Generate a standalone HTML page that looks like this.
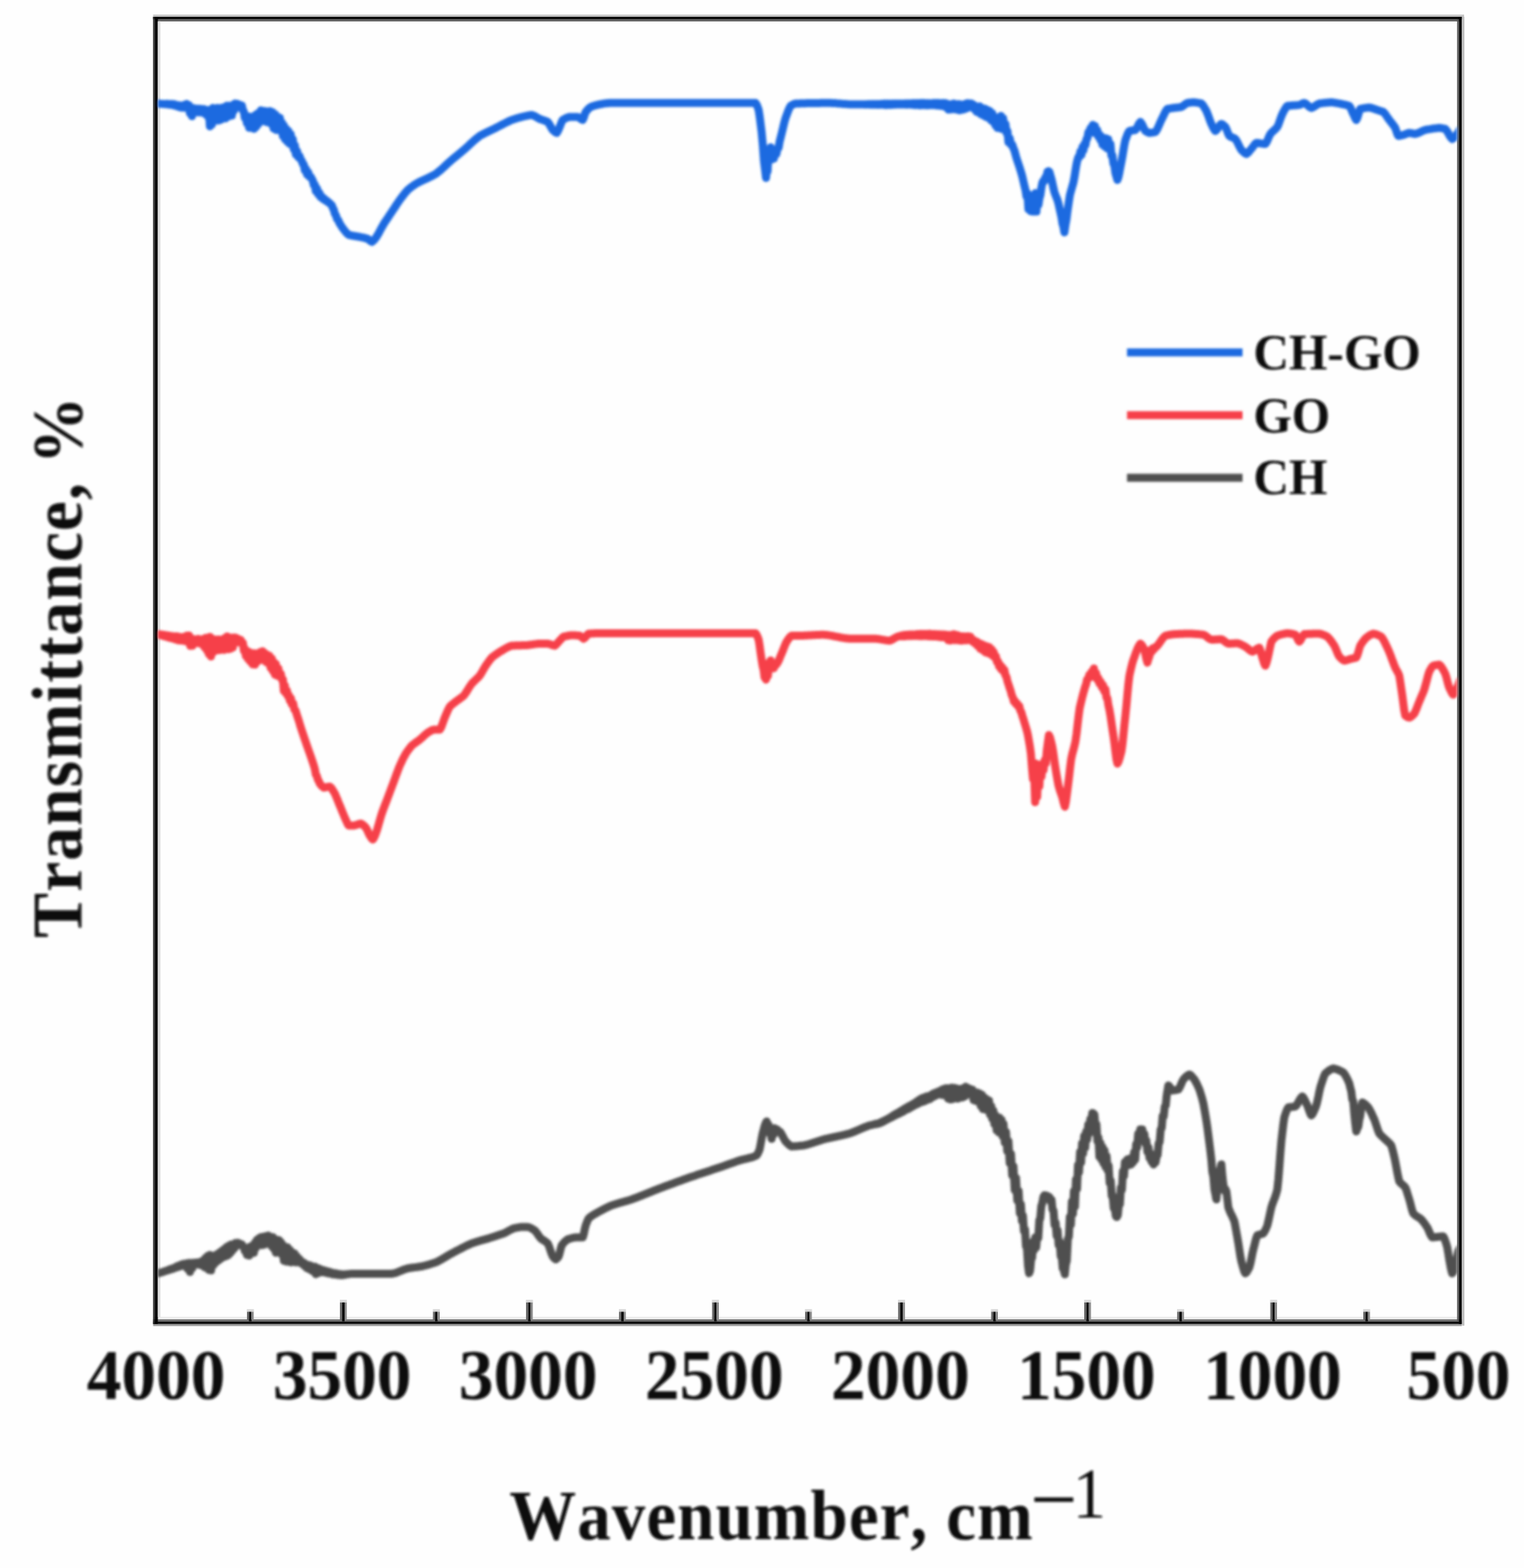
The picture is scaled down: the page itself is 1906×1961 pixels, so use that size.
<!DOCTYPE html>
<html lang="en"><head><meta charset="utf-8"><title>FTIR spectra</title>
<style>html,body{margin:0;padding:0;background:#fefefe}body{width:1906px;height:1961px;overflow:hidden}svg{display:block}</style></head>
<body>
<svg width="1906" height="1961" viewBox="0 0 1906 1961">
<defs><clipPath id="c"><rect x="197.2" y="26.7" width="1625.4" height="1623.3"/></clipPath>
<filter id="soft" x="-5%" y="-5%" width="110%" height="110%"><feGaussianBlur stdDeviation="1.4"/></filter><filter id="crisp" x="-2%" y="-2%" width="104%" height="104%"><feGaussianBlur stdDeviation="0.6"/></filter></defs>
<rect x="0" y="0" width="1906" height="1961" fill="#fefefe"/>
<g filter="url(#crisp)">
<rect x="191.5" y="18.3" width="1639.6" height="2.7" fill="#c2c2c2"/>
<rect x="191.5" y="21.0" width="1636.8" height="3.2" fill="#080808"/>
<rect x="194.5" y="24.2" width="1630.8" height="2.5" fill="#555555"/>
<rect x="191.5" y="1646.8" width="1636.8" height="3.2" fill="#ececec"/>
<rect x="191.5" y="1650.0" width="1636.8" height="2.5" fill="#757575"/>
<rect x="191.5" y="1652.5" width="1636.8" height="3.4" fill="#101010"/>
<rect x="191.5" y="1655.9" width="1636.8" height="2.5" fill="#9a9a9a"/>
<rect x="191.5" y="21.0" width="1.8" height="1634.9" fill="#2a2a2a"/>
<rect x="193.3" y="21.0" width="4.1" height="1634.9" fill="#060606"/>
<rect x="197.6" y="26.7" width="3.0" height="1620.3" fill="#dedede"/>
<rect x="1822.4" y="24.2" width="2.2" height="1627.8" fill="#555555"/>
<rect x="1824.6" y="21.0" width="3.7" height="1634.9" fill="#060606"/>
<rect x="1828.6" y="21.0" width="2.8" height="1636.9" fill="#bcbcbc"/>
<rect x="308.9" y="1640.3" width="2.6" height="10.7" fill="#666666"/>
<rect x="311.4" y="1640.3" width="3.2" height="12.2" fill="#080808"/>
<rect x="314.7" y="1640.3" width="2.6" height="10.7" fill="#888888"/>
<rect x="308.7" y="1637.3" width="8.8" height="3.0" fill="#d8d8d8"/>
<rect x="425.2" y="1628.6" width="2.6" height="22.4" fill="#666666"/>
<rect x="427.8" y="1628.6" width="3.2" height="23.9" fill="#080808"/>
<rect x="431.0" y="1628.6" width="2.6" height="22.4" fill="#888888"/>
<rect x="425.0" y="1625.6" width="8.8" height="3.0" fill="#d8d8d8"/>
<rect x="541.5" y="1640.3" width="2.6" height="10.7" fill="#666666"/>
<rect x="544.1" y="1640.3" width="3.2" height="12.2" fill="#080808"/>
<rect x="547.4" y="1640.3" width="2.6" height="10.7" fill="#888888"/>
<rect x="541.4" y="1637.3" width="8.8" height="3.0" fill="#d8d8d8"/>
<rect x="657.9" y="1628.6" width="2.6" height="22.4" fill="#666666"/>
<rect x="660.5" y="1628.6" width="3.2" height="23.9" fill="#080808"/>
<rect x="663.7" y="1628.6" width="2.6" height="22.4" fill="#888888"/>
<rect x="657.7" y="1625.6" width="8.8" height="3.0" fill="#d8d8d8"/>
<rect x="774.2" y="1640.3" width="2.6" height="10.7" fill="#666666"/>
<rect x="776.8" y="1640.3" width="3.2" height="12.2" fill="#080808"/>
<rect x="780.0" y="1640.3" width="2.6" height="10.7" fill="#888888"/>
<rect x="774.0" y="1637.3" width="8.8" height="3.0" fill="#d8d8d8"/>
<rect x="890.6" y="1628.6" width="2.6" height="22.4" fill="#666666"/>
<rect x="893.2" y="1628.6" width="3.2" height="23.9" fill="#080808"/>
<rect x="896.4" y="1628.6" width="2.6" height="22.4" fill="#888888"/>
<rect x="890.4" y="1625.6" width="8.8" height="3.0" fill="#d8d8d8"/>
<rect x="1006.9" y="1640.3" width="2.6" height="10.7" fill="#666666"/>
<rect x="1009.5" y="1640.3" width="3.2" height="12.2" fill="#080808"/>
<rect x="1012.7" y="1640.3" width="2.6" height="10.7" fill="#888888"/>
<rect x="1006.7" y="1637.3" width="8.8" height="3.0" fill="#d8d8d8"/>
<rect x="1123.3" y="1628.6" width="2.6" height="22.4" fill="#666666"/>
<rect x="1125.9" y="1628.6" width="3.2" height="23.9" fill="#080808"/>
<rect x="1129.1" y="1628.6" width="2.6" height="22.4" fill="#888888"/>
<rect x="1123.1" y="1625.6" width="8.8" height="3.0" fill="#d8d8d8"/>
<rect x="1239.6" y="1640.3" width="2.6" height="10.7" fill="#666666"/>
<rect x="1242.2" y="1640.3" width="3.2" height="12.2" fill="#080808"/>
<rect x="1245.4" y="1640.3" width="2.6" height="10.7" fill="#888888"/>
<rect x="1239.4" y="1637.3" width="8.8" height="3.0" fill="#d8d8d8"/>
<rect x="1356.0" y="1628.6" width="2.6" height="22.4" fill="#666666"/>
<rect x="1358.6" y="1628.6" width="3.2" height="23.9" fill="#080808"/>
<rect x="1361.8" y="1628.6" width="2.6" height="22.4" fill="#888888"/>
<rect x="1355.8" y="1625.6" width="8.8" height="3.0" fill="#d8d8d8"/>
<rect x="1472.3" y="1640.3" width="2.6" height="10.7" fill="#666666"/>
<rect x="1475.0" y="1640.3" width="3.2" height="12.2" fill="#080808"/>
<rect x="1478.1" y="1640.3" width="2.6" height="10.7" fill="#888888"/>
<rect x="1472.1" y="1637.3" width="8.8" height="3.0" fill="#d8d8d8"/>
<rect x="1588.7" y="1628.6" width="2.6" height="22.4" fill="#666666"/>
<rect x="1591.3" y="1628.6" width="3.2" height="23.9" fill="#080808"/>
<rect x="1594.5" y="1628.6" width="2.6" height="22.4" fill="#888888"/>
<rect x="1588.5" y="1625.6" width="8.8" height="3.0" fill="#d8d8d8"/>
<rect x="1705.0" y="1640.3" width="2.6" height="10.7" fill="#666666"/>
<rect x="1707.6" y="1640.3" width="3.2" height="12.2" fill="#080808"/>
<rect x="1710.8" y="1640.3" width="2.6" height="10.7" fill="#888888"/>
<rect x="1704.8" y="1637.3" width="8.8" height="3.0" fill="#d8d8d8"/>
</g>
<g filter="url(#soft)">
<g clip-path="url(#c)" fill="none" stroke-linejoin="round" stroke-linecap="round" stroke-width="10">
<path stroke="#1f6ae0" d="M195.0 128.8 L196.2 129.4 L197.8 129.5 L199.4 129.7 L200.9 129.8 L202.5 129.9 L204.1 130.0 L205.6 130.1 L207.2 130.4 L208.8 129.8 L210.3 130.7 L211.9 130.0 L213.4 131.0 L215.0 130.1 L216.6 131.5 L218.1 130.5 L219.7 132.3 L221.2 131.4 L222.8 133.6 L224.4 131.8 L225.9 134.4 L227.5 132.3 L229.0 134.7 L230.5 131.1 L232.0 134.7 L233.5 129.9 L235.0 135.5 L236.2 131.6 L237.5 141.7 L238.8 134.2 L240.0 145.3 L241.2 135.1 L242.5 141.5 L243.8 135.6 L245.2 140.3 L246.7 135.9 L248.1 140.6 L249.6 135.9 L251.0 140.4 L252.5 136.3 L254.0 141.0 L255.5 136.6 L257.0 142.9 L258.5 138.1 L260.0 145.9 L261.2 137.6 L262.5 157.9 L263.8 138.0 L265.0 155.7 L266.2 135.0 L267.5 149.8 L268.9 136.2 L270.4 150.7 L271.8 135.0 L273.2 150.7 L274.6 135.5 L276.1 149.8 L277.5 134.7 L279.0 147.8 L280.5 134.0 L282.0 148.1 L283.5 132.3 L285.0 146.1 L286.2 132.2 L287.5 144.0 L288.8 132.5 L290.0 144.6 L291.2 131.3 L292.5 138.5 L293.8 129.5 L295.0 134.5 L296.5 129.7 L298.0 134.2 L299.5 130.8 L301.0 134.5 L302.5 131.9 L303.8 138.2 L305.0 139.7 L306.2 147.6 L307.5 145.3 L308.8 154.2 L310.0 145.4 L311.5 159.8 L313.0 146.1 L314.5 159.8 L316.0 147.3 L317.5 161.0 L318.8 144.4 L320.0 158.9 L321.2 142.6 L322.5 155.8 L323.8 141.1 L325.0 152.9 L326.2 138.0 L327.5 151.5 L328.9 138.8 L330.4 150.9 L331.8 138.9 L333.2 152.7 L334.6 140.4 L336.1 152.5 L337.5 138.9 L339.1 155.2 L340.6 140.3 L342.2 160.8 L343.8 142.7 L345.3 162.4 L346.9 145.7 L348.4 160.6 L350.0 147.4 L351.2 164.2 L352.5 153.1 L353.8 170.2 L355.0 157.1 L356.4 174.1 L357.9 161.3 L359.3 177.1 L360.7 163.9 L362.1 179.7 L363.6 167.9 L365.0 181.5 L366.2 174.2 L367.5 187.0 L368.8 181.9 L370.0 193.3 L371.5 188.8 L373.0 196.6 L374.5 194.9 L376.0 199.4 L377.5 201.2 L378.8 205.3 L380.0 205.7 L381.2 213.2 L382.5 210.8 L384.0 218.3 L385.5 215.5 L387.0 221.0 L388.5 220.9 L390.0 223.8 L391.2 225.8 L392.5 231.6 L393.8 231.1 L395.0 239.3 L396.5 235.7 L398.0 243.1 L399.5 241.2 L401.0 246.7 L402.5 245.8 L404.1 249.1 L405.6 248.6 L407.2 251.1 L408.8 251.1 L410.3 253.1 L411.9 253.7 L413.4 255.3 L415.0 256.9 L416.2 259.9 L417.5 262.5 L418.8 267.5 L420.0 269.0 L421.5 273.9 L423.0 275.2 L424.5 279.0 L426.0 281.3 L427.5 283.8 L429.0 285.7 L430.4 287.6 L431.9 289.5 L433.3 291.2 L434.8 292.6 L436.2 293.8 L437.8 294.1 L439.3 294.5 L440.8 294.7 L442.4 295.0 L443.9 295.2 L445.4 295.5 L446.9 295.7 L448.5 296.0 L450.0 296.2 L451.4 296.6 L452.9 296.9 L454.3 297.2 L455.7 297.5 L457.1 297.9 L458.6 298.3 L460.0 298.8 L461.2 299.6 L462.5 300.8 L463.8 301.8 L465.0 302.5 L466.2 301.7 L467.5 300.5 L468.8 299.0 L470.0 297.5 L471.4 295.3 L472.9 292.9 L474.3 290.3 L475.7 287.7 L477.1 285.1 L478.6 282.5 L480.0 280.0 L481.4 277.8 L482.9 275.6 L484.3 273.5 L485.7 271.4 L487.1 269.2 L488.6 267.1 L490.0 265.0 L491.4 262.8 L492.9 260.7 L494.3 258.5 L495.7 256.3 L497.1 254.2 L498.6 252.1 L500.0 250.0 L501.4 248.1 L502.9 246.2 L504.3 244.4 L505.7 242.5 L507.1 240.8 L508.6 239.1 L510.0 237.5 L511.4 236.3 L512.9 235.1 L514.3 234.0 L515.7 233.0 L517.1 232.0 L518.6 231.0 L520.0 230.0 L521.6 229.1 L523.1 228.3 L524.7 227.5 L526.2 226.7 L527.8 226.0 L529.4 225.2 L530.9 224.5 L532.5 223.8 L534.1 223.1 L535.6 222.3 L537.2 221.6 L538.8 220.8 L540.3 220.1 L541.9 219.2 L543.4 218.4 L545.0 217.5 L546.5 216.3 L548.1 215.1 L549.6 213.8 L551.2 212.5 L552.7 211.2 L554.2 209.8 L555.8 208.4 L557.3 206.9 L558.8 205.5 L560.4 204.1 L561.9 202.7 L563.5 201.3 L565.0 200.0 L566.5 198.7 L568.0 197.5 L569.5 196.2 L571.0 195.0 L572.5 193.8 L574.0 192.5 L575.5 191.3 L577.0 190.0 L578.5 188.8 L580.0 187.5 L581.5 186.2 L583.1 184.8 L584.6 183.4 L586.2 182.0 L587.7 180.5 L589.2 179.1 L590.8 177.7 L592.3 176.3 L593.8 175.0 L595.4 173.7 L596.9 172.4 L598.5 171.2 L600.0 170.0 L601.5 169.1 L603.1 168.3 L604.6 167.5 L606.2 166.7 L607.7 165.9 L609.2 165.2 L610.8 164.4 L612.3 163.7 L613.8 163.0 L615.4 162.2 L616.9 161.5 L618.5 160.8 L620.0 160.0 L621.5 159.2 L623.1 158.4 L624.6 157.6 L626.2 156.8 L627.7 156.0 L629.2 155.2 L630.8 154.4 L632.3 153.6 L633.8 152.8 L635.4 152.1 L636.9 151.4 L638.5 150.7 L640.0 150.0 L641.6 149.5 L643.1 149.0 L644.7 148.5 L646.2 148.0 L647.8 147.5 L649.4 147.1 L650.9 146.7 L652.5 146.2 L654.1 145.9 L655.6 145.5 L657.2 145.1 L658.8 144.8 L660.3 144.4 L661.9 144.2 L663.4 143.9 L665.0 143.8 L666.4 144.2 L667.9 144.8 L669.3 145.5 L670.7 146.4 L672.1 147.2 L673.6 148.0 L675.0 148.8 L676.4 149.3 L677.9 149.8 L679.3 150.2 L680.7 150.7 L682.1 151.2 L683.6 151.8 L685.0 152.5 L686.6 154.6 L688.1 157.3 L689.7 160.1 L691.2 162.5 L692.5 163.7 L693.8 164.8 L695.0 165.7 L696.2 166.2 L697.5 164.4 L698.8 161.6 L700.0 158.8 L701.2 155.6 L702.5 152.4 L703.8 150.0 L705.2 149.1 L706.7 148.3 L708.1 147.6 L709.6 147.0 L711.0 146.6 L712.5 146.2 L713.9 146.2 L715.4 146.2 L716.8 146.2 L718.2 146.2 L719.6 146.2 L721.1 146.2 L722.5 146.2 L724.1 147.0 L725.6 148.1 L727.2 149.3 L728.8 150.0 L730.0 147.4 L731.2 143.4 L732.5 140.0 L734.1 138.1 L735.6 136.4 L737.2 134.9 L738.8 133.8 L740.2 133.2 L741.6 132.7 L743.0 132.3 L744.4 131.9 L745.8 131.5 L747.2 131.2 L748.6 130.8 L750.0 130.5 L751.6 130.2 L753.1 130.0 L754.7 129.7 L756.2 129.4 L757.8 129.2 L759.4 129.0 L760.9 128.9 L762.5 128.8 L764.1 128.8 L765.7 128.8 L767.3 128.8 L768.8 128.8 L770.4 128.8 L772.0 128.8 L773.6 128.8 L775.2 128.8 L776.8 128.8 L778.4 128.8 L780.0 128.8 L781.5 128.8 L783.1 128.8 L784.7 128.8 L786.3 128.8 L787.9 128.8 L789.5 128.8 L791.1 128.8 L792.7 128.8 L794.2 128.8 L795.8 128.8 L797.4 128.8 L799.0 128.8 L800.6 128.8 L802.2 128.8 L803.8 128.8 L805.3 128.8 L806.9 128.8 L808.5 128.8 L810.1 128.8 L811.7 128.8 L813.3 128.8 L814.9 128.8 L816.5 128.8 L818.0 128.8 L819.6 128.8 L821.2 128.8 L822.8 128.8 L824.4 128.8 L826.0 128.8 L827.6 128.8 L829.2 128.8 L830.7 128.8 L832.3 128.8 L833.9 128.8 L835.5 128.8 L837.1 128.8 L838.7 128.8 L840.3 128.8 L841.8 128.8 L843.4 128.8 L845.0 128.8 L846.6 128.8 L848.2 128.8 L849.8 128.8 L851.4 128.8 L853.0 128.8 L854.5 128.8 L856.1 128.8 L857.7 128.8 L859.3 128.8 L860.9 128.8 L862.5 128.8 L864.1 128.8 L865.7 128.8 L867.2 128.8 L868.8 128.8 L870.4 128.8 L872.0 128.8 L873.6 128.8 L875.2 128.8 L876.8 128.8 L878.3 128.8 L879.9 128.8 L881.5 128.8 L883.1 128.8 L884.7 128.8 L886.3 128.8 L887.9 128.8 L889.5 128.8 L891.0 128.8 L892.6 128.8 L894.2 128.8 L895.8 128.8 L897.4 128.8 L899.0 128.8 L900.6 128.8 L902.2 128.8 L903.7 128.8 L905.3 128.8 L906.9 128.8 L908.5 128.8 L910.1 128.8 L911.7 128.8 L913.3 128.8 L914.8 128.8 L916.4 128.8 L918.0 128.8 L919.6 128.8 L921.2 128.8 L922.8 128.8 L924.4 128.8 L926.0 128.8 L927.5 128.8 L929.1 128.8 L930.7 128.8 L932.3 128.8 L933.9 128.8 L935.5 128.8 L937.1 128.8 L938.7 128.8 L940.2 128.8 L941.8 128.8 L943.4 128.8 L945.0 128.8 L946.2 130.7 L947.5 133.8 L948.8 137.5 L950.0 145.1 L951.2 154.6 L952.5 165.0 L954.0 181.4 L955.5 201.9 L956.8 212.0 L958.0 222.5 L959.0 213.4 L960.0 214.3 L961.2 189.3 L962.5 194.0 L963.8 184.2 L965.0 199.5 L966.2 189.1 L967.8 198.4 L969.4 188.8 L970.9 193.0 L972.5 185.5 L973.8 184.6 L975.0 177.2 L976.2 172.5 L977.8 166.1 L979.4 159.5 L980.9 153.2 L982.5 147.5 L984.1 143.2 L985.6 139.0 L987.2 135.3 L988.8 132.5 L990.3 131.5 L991.9 130.6 L993.4 130.0 L995.0 129.5 L996.6 129.4 L998.1 129.4 L999.7 129.4 L1001.3 129.3 L1002.9 129.3 L1004.4 129.2 L1006.0 129.2 L1007.6 129.2 L1009.2 129.1 L1010.7 129.1 L1012.3 129.1 L1013.9 129.0 L1015.5 129.0 L1017.0 129.0 L1018.6 128.9 L1020.2 128.9 L1021.8 128.9 L1023.3 128.9 L1024.9 128.9 L1026.5 128.8 L1028.1 128.8 L1029.6 128.8 L1031.2 128.8 L1032.8 128.8 L1034.4 128.8 L1035.9 128.8 L1037.5 128.8 L1039.0 128.8 L1040.6 128.9 L1042.1 128.9 L1043.6 129.0 L1045.1 129.1 L1046.7 129.3 L1048.2 129.4 L1049.7 129.5 L1051.2 129.6 L1052.8 129.8 L1054.3 129.9 L1055.8 130.0 L1057.4 130.1 L1058.9 130.2 L1060.4 130.3 L1061.9 130.4 L1063.5 130.5 L1065.0 130.5 L1066.6 130.5 L1068.1 130.5 L1069.7 130.5 L1071.3 130.5 L1072.9 130.5 L1074.4 130.5 L1076.0 130.5 L1077.6 130.5 L1079.2 130.5 L1080.7 130.5 L1082.3 130.8 L1083.9 130.3 L1085.5 130.8 L1087.0 130.1 L1088.6 130.9 L1090.2 130.1 L1091.8 131.0 L1093.3 130.1 L1094.9 131.0 L1096.5 130.0 L1098.1 131.0 L1099.6 130.0 L1101.2 130.9 L1102.8 129.9 L1104.4 131.0 L1105.9 129.8 L1107.5 131.2 L1109.0 129.8 L1110.5 131.0 L1112.0 129.7 L1113.5 131.1 L1115.0 129.7 L1116.5 130.9 L1118.0 129.7 L1119.5 130.8 L1121.0 129.7 L1122.5 130.7 L1124.0 129.6 L1125.5 130.6 L1127.0 129.6 L1128.5 130.6 L1130.0 129.5 L1131.6 130.6 L1133.1 129.4 L1134.7 130.9 L1136.2 129.2 L1137.8 130.8 L1139.4 129.3 L1140.9 131.1 L1142.5 129.0 L1144.1 131.4 L1145.6 129.1 L1147.2 131.3 L1148.8 128.9 L1150.3 131.7 L1151.9 128.8 L1153.4 131.5 L1155.0 128.8 L1156.6 131.6 L1158.1 129.0 L1159.7 131.7 L1161.2 129.1 L1162.8 131.6 L1164.4 129.2 L1165.9 131.4 L1167.5 128.8 L1169.0 131.5 L1170.5 128.8 L1172.0 132.0 L1173.5 128.7 L1175.0 132.2 L1176.5 129.1 L1178.0 132.5 L1179.5 128.8 L1181.0 133.1 L1182.5 128.9 L1183.8 134.7 L1185.0 130.0 L1186.2 137.1 L1187.5 130.6 L1188.8 136.9 L1190.0 130.4 L1191.2 136.6 L1192.5 129.5 L1194.0 136.5 L1195.5 130.3 L1197.0 137.3 L1198.5 130.2 L1200.0 137.9 L1201.5 130.6 L1203.0 137.3 L1204.5 131.0 L1206.0 136.7 L1207.5 129.7 L1208.8 135.6 L1210.0 129.1 L1211.2 133.1 L1212.5 129.2 L1213.8 133.2 L1215.0 129.6 L1216.2 134.8 L1217.5 131.0 L1218.8 136.9 L1220.0 132.5 L1221.2 139.7 L1222.5 133.5 L1224.0 140.8 L1225.5 133.1 L1227.0 143.0 L1228.5 135.3 L1230.0 144.4 L1231.6 136.0 L1233.1 146.3 L1234.7 137.4 L1236.2 147.5 L1237.8 139.0 L1239.4 150.6 L1240.9 141.6 L1242.5 153.1 L1243.8 145.9 L1245.0 157.0 L1246.2 148.9 L1247.5 160.1 L1248.9 149.1 L1250.3 159.7 L1251.7 145.1 L1253.1 161.3 L1254.6 147.9 L1256.0 161.8 L1257.5 155.2 L1258.8 166.4 L1260.0 163.8 L1261.2 177.9 L1262.8 172.7 L1264.4 181.1 L1265.9 180.6 L1267.5 185.5 L1268.8 188.5 L1270.0 193.2 L1271.2 197.5 L1272.8 202.3 L1274.4 207.0 L1275.9 211.8 L1277.5 216.9 L1278.8 221.8 L1280.0 227.0 L1281.2 232.3 L1282.5 237.5 L1283.8 245.9 L1285.0 241.8 L1286.2 261.7 L1287.5 244.5 L1288.8 263.9 L1290.0 245.1 L1291.2 264.6 L1292.5 245.7 L1293.8 264.5 L1295.0 241.4 L1296.2 264.6 L1297.5 244.5 L1298.8 256.0 L1300.0 247.8 L1301.2 243.8 L1302.5 234.2 L1303.8 228.1 L1305.0 225.9 L1306.2 226.4 L1307.5 221.6 L1308.8 222.0 L1310.0 214.7 L1311.2 214.1 L1312.5 214.9 L1313.8 219.9 L1315.0 223.8 L1316.2 229.2 L1317.5 235.3 L1318.8 240.6 L1320.0 243.9 L1321.2 246.8 L1322.5 250.0 L1323.8 254.8 L1325.0 260.2 L1326.2 265.6 L1327.5 271.4 L1328.8 279.8 L1330.0 283.6 L1331.2 290.6 L1332.5 281.6 L1333.8 274.3 L1335.0 264.4 L1336.6 253.6 L1338.1 243.8 L1339.6 238.2 L1341.0 233.4 L1342.5 228.1 L1343.8 221.3 L1345.0 213.5 L1346.2 206.1 L1347.5 200.0 L1348.8 196.2 L1350.0 196.4 L1351.2 189.2 L1352.5 193.7 L1353.8 183.8 L1355.0 188.1 L1356.2 180.1 L1357.5 181.5 L1358.8 174.1 L1360.0 172.6 L1361.2 165.2 L1362.5 164.7 L1363.9 160.3 L1365.2 165.0 L1366.6 156.2 L1368.0 166.1 L1369.4 157.7 L1370.8 166.8 L1372.2 162.4 L1373.6 171.0 L1375.0 168.0 L1376.2 175.3 L1377.5 170.7 L1378.8 181.1 L1380.0 173.1 L1381.5 183.3 L1383.0 172.9 L1384.5 185.5 L1386.0 174.2 L1387.5 187.2 L1388.8 180.2 L1390.0 194.6 L1391.2 194.1 L1392.5 204.6 L1393.8 207.3 L1395.0 216.5 L1396.2 220.7 L1397.5 225.0 L1398.8 221.3 L1400.0 215.6 L1401.2 208.9 L1402.5 202.5 L1403.8 195.5 L1405.0 188.1 L1406.2 181.0 L1407.5 175.0 L1408.8 171.5 L1410.0 168.3 L1411.2 165.6 L1412.5 163.8 L1414.0 163.4 L1415.5 163.2 L1417.0 163.0 L1418.5 162.8 L1420.0 162.5 L1421.6 160.4 L1423.1 157.4 L1424.7 154.4 L1426.2 152.5 L1427.8 154.5 L1429.4 157.8 L1430.9 161.2 L1432.5 163.8 L1433.8 164.6 L1435.0 165.3 L1436.2 165.9 L1437.5 166.2 L1439.0 166.1 L1440.5 165.9 L1442.0 165.7 L1443.5 165.4 L1445.0 165.0 L1446.5 163.0 L1448.0 160.1 L1449.5 156.7 L1451.0 153.2 L1452.5 150.0 L1454.0 147.0 L1455.5 143.8 L1457.0 140.7 L1458.5 138.1 L1460.0 136.2 L1461.5 135.9 L1463.0 135.7 L1464.5 135.4 L1466.0 135.2 L1467.5 135.0 L1468.9 134.8 L1470.4 134.7 L1471.8 134.5 L1473.2 134.4 L1474.6 134.2 L1476.1 134.0 L1477.5 133.8 L1479.0 132.9 L1480.5 131.8 L1482.0 130.6 L1483.5 129.5 L1485.0 128.8 L1486.5 128.5 L1488.0 128.4 L1489.5 128.2 L1491.0 128.1 L1492.5 128.0 L1493.9 128.1 L1495.4 128.2 L1496.8 128.4 L1498.2 128.6 L1499.6 128.9 L1501.1 129.2 L1502.5 129.5 L1504.1 131.1 L1505.6 133.4 L1507.2 136.0 L1508.8 138.8 L1510.3 142.5 L1511.9 146.8 L1513.4 151.1 L1515.0 155.0 L1516.2 157.6 L1517.5 160.2 L1518.8 162.3 L1520.0 163.8 L1521.5 162.5 L1523.0 160.5 L1524.5 158.2 L1526.0 156.2 L1527.5 155.0 L1528.8 155.6 L1530.0 156.5 L1531.2 157.5 L1532.5 158.8 L1533.8 161.3 L1535.0 164.5 L1536.2 167.6 L1537.5 170.0 L1539.0 170.9 L1540.5 171.6 L1542.0 172.2 L1543.5 172.9 L1545.0 173.8 L1546.5 176.0 L1548.0 178.9 L1549.5 182.0 L1551.0 185.0 L1552.5 187.5 L1554.1 189.0 L1555.6 190.5 L1557.2 191.7 L1558.8 192.5 L1560.3 191.5 L1561.9 189.9 L1563.4 188.0 L1565.0 186.2 L1566.6 184.2 L1568.1 182.0 L1569.7 180.0 L1571.2 178.8 L1572.7 178.8 L1574.1 179.0 L1575.5 179.2 L1576.9 179.4 L1578.3 179.6 L1579.7 179.8 L1581.1 179.9 L1582.5 180.0 L1584.1 177.8 L1585.6 174.4 L1587.2 170.6 L1588.8 167.5 L1590.2 165.9 L1591.7 164.5 L1593.1 163.2 L1594.6 161.9 L1596.0 160.5 L1597.5 158.8 L1599.1 155.2 L1600.6 150.9 L1602.2 146.4 L1603.8 142.5 L1605.3 139.5 L1606.9 136.7 L1608.4 134.2 L1610.0 132.5 L1611.5 132.3 L1613.0 132.2 L1614.5 132.0 L1616.0 131.9 L1617.5 131.8 L1619.0 131.8 L1620.5 131.7 L1622.0 131.6 L1623.5 131.4 L1625.0 131.2 L1626.6 130.7 L1628.1 129.9 L1629.7 129.2 L1631.2 128.8 L1632.7 129.4 L1634.2 130.6 L1635.6 131.9 L1637.1 133.2 L1638.5 134.3 L1640.0 135.0 L1641.4 134.5 L1642.9 133.8 L1644.3 132.9 L1645.7 131.9 L1647.1 130.9 L1648.6 130.1 L1650.0 129.5 L1651.5 129.3 L1653.0 129.1 L1654.5 128.9 L1656.0 128.7 L1657.5 128.6 L1659.0 128.4 L1660.5 128.3 L1662.0 128.2 L1663.5 128.1 L1665.0 128.0 L1666.6 128.1 L1668.1 128.3 L1669.7 128.6 L1671.2 128.8 L1672.8 129.1 L1674.4 129.4 L1675.9 129.7 L1677.5 130.0 L1678.9 130.3 L1680.4 130.6 L1681.8 130.9 L1683.2 131.2 L1684.6 131.6 L1686.1 132.0 L1687.5 132.5 L1688.8 134.4 L1690.0 136.9 L1691.2 139.8 L1692.5 142.5 L1693.8 145.3 L1695.0 148.2 L1696.2 150.0 L1697.5 147.4 L1698.8 143.2 L1700.0 139.1 L1701.2 136.2 L1702.7 135.9 L1704.1 135.6 L1705.5 135.3 L1706.9 135.1 L1708.3 134.9 L1709.7 134.7 L1711.1 134.6 L1712.5 134.5 L1713.9 134.7 L1715.4 135.1 L1716.8 135.5 L1718.2 136.0 L1719.6 136.5 L1721.1 137.0 L1722.5 137.5 L1724.0 138.0 L1725.5 138.4 L1727.0 138.9 L1728.5 139.4 L1730.0 140.0 L1731.5 141.5 L1733.0 143.5 L1734.5 145.7 L1736.0 147.9 L1737.5 150.0 L1739.0 151.9 L1740.5 153.8 L1742.0 155.7 L1743.5 157.7 L1745.0 160.0 L1746.2 163.5 L1747.5 167.4 L1748.8 170.0 L1750.3 169.8 L1751.9 169.5 L1753.4 169.1 L1755.0 168.8 L1756.5 168.3 L1758.0 167.7 L1759.5 167.1 L1761.0 166.6 L1762.5 166.2 L1764.0 166.4 L1765.5 166.7 L1767.0 167.0 L1768.5 167.3 L1770.0 167.5 L1771.6 167.1 L1773.1 166.6 L1774.7 165.9 L1776.2 165.2 L1777.8 164.4 L1779.4 163.7 L1780.9 163.0 L1782.5 162.5 L1784.1 162.2 L1785.7 161.9 L1787.3 161.6 L1788.9 161.4 L1790.5 161.1 L1792.0 160.8 L1793.6 160.6 L1795.2 160.4 L1796.8 160.3 L1798.4 160.1 L1800.0 160.0 L1801.5 160.1 L1803.0 160.3 L1804.5 160.6 L1806.0 160.9 L1807.5 161.2 L1809.0 162.8 L1810.4 165.1 L1811.9 167.7 L1813.3 170.3 L1814.8 172.4 L1816.2 173.8 L1817.8 172.8 L1819.4 171.2 L1820.9 169.4 L1822.5 167.5 L1823.8 165.5 L1825.0 163.4 L1826.2 161.2"/>
<path stroke="#f6414a" d="M195.0 793.8 L196.2 793.4 L197.8 793.8 L199.4 793.3 L200.9 794.4 L202.5 793.7 L204.1 795.4 L205.6 794.0 L207.2 796.2 L208.8 794.6 L210.3 797.2 L211.9 794.9 L213.4 798.0 L215.0 795.5 L216.6 798.8 L218.1 795.8 L219.7 799.8 L221.2 795.8 L222.8 800.7 L224.4 796.5 L225.9 801.0 L227.5 796.9 L229.0 801.2 L230.5 796.2 L232.0 802.0 L233.5 795.0 L235.0 802.3 L236.5 794.8 L237.9 807.8 L239.4 798.6 L240.8 807.5 L242.3 799.4 L243.8 803.2 L245.2 799.5 L246.7 803.9 L248.1 799.0 L249.6 804.8 L251.0 800.1 L252.5 805.8 L254.1 799.1 L255.6 809.4 L257.2 797.8 L258.8 813.5 L260.0 797.5 L261.2 818.0 L262.5 796.4 L263.8 821.0 L265.0 800.2 L266.2 816.1 L267.5 799.5 L268.9 813.5 L270.4 800.3 L271.8 813.2 L273.2 799.7 L274.6 813.0 L276.1 800.3 L277.5 812.4 L278.8 799.4 L280.0 812.8 L281.2 797.9 L282.5 811.2 L284.0 795.9 L285.5 812.0 L287.0 797.1 L288.5 811.2 L290.0 797.7 L291.2 809.7 L292.5 797.3 L293.8 803.6 L295.2 797.6 L296.7 803.3 L298.1 798.9 L299.6 803.4 L301.0 800.3 L302.5 803.7 L303.8 804.0 L305.0 814.0 L306.2 811.1 L307.5 820.5 L308.8 814.3 L310.0 824.0 L311.2 815.1 L312.8 827.3 L314.4 817.9 L315.9 830.9 L317.5 816.9 L318.8 831.2 L320.0 817.7 L321.2 827.9 L322.5 817.1 L324.0 826.1 L325.4 815.5 L326.9 824.8 L328.2 814.5 L329.6 825.2 L331.0 816.6 L332.4 827.7 L333.8 818.8 L335.3 829.5 L336.9 820.2 L338.4 835.3 L340.0 823.7 L341.2 839.1 L342.5 828.1 L343.8 843.7 L345.0 830.5 L346.6 845.2 L348.1 836.0 L349.7 844.5 L351.2 842.6 L352.5 850.0 L353.8 849.7 L355.0 864.2 L356.2 857.1 L357.5 867.0 L358.8 863.3 L360.0 870.6 L361.2 869.2 L362.5 876.4 L363.8 873.1 L365.0 880.9 L366.6 879.4 L368.1 887.3 L369.7 888.7 L371.2 893.8 L372.8 898.6 L374.4 903.6 L375.9 908.8 L377.5 913.8 L379.0 918.2 L380.5 922.6 L382.0 926.9 L383.5 931.3 L385.0 935.6 L386.5 939.9 L388.0 944.1 L389.5 948.4 L391.0 952.8 L392.5 957.5 L393.8 962.1 L395.0 968.5 L396.2 970.4 L397.5 974.9 L398.8 977.1 L400.0 980.0 L401.2 981.6 L402.5 983.0 L403.8 984.2 L405.0 985.0 L406.5 984.8 L408.0 984.5 L409.5 984.2 L411.0 983.9 L412.5 983.8 L414.1 985.1 L415.6 987.3 L417.2 989.9 L418.8 992.5 L420.3 995.9 L421.9 999.7 L423.4 1003.6 L425.0 1007.5 L426.6 1011.3 L428.1 1015.1 L429.7 1018.9 L431.2 1022.5 L432.5 1025.4 L433.8 1028.3 L435.0 1030.9 L436.2 1032.5 L437.8 1032.5 L439.4 1032.5 L440.9 1032.5 L442.5 1032.5 L444.0 1032.2 L445.4 1031.8 L446.9 1031.2 L448.3 1030.7 L449.8 1030.3 L451.2 1030.0 L452.8 1030.8 L454.4 1032.0 L455.9 1033.4 L457.5 1035.0 L458.8 1037.2 L460.0 1039.8 L461.2 1042.6 L462.5 1045.0 L463.8 1047.0 L465.0 1048.8 L466.2 1050.0 L467.5 1048.2 L468.8 1045.5 L470.0 1042.5 L471.5 1038.0 L473.0 1032.9 L474.5 1027.6 L476.0 1022.4 L477.5 1017.5 L479.0 1013.3 L480.5 1009.3 L482.0 1005.4 L483.5 1001.5 L485.0 997.5 L486.5 993.5 L488.0 989.5 L489.5 985.5 L491.0 981.5 L492.5 977.5 L494.0 973.4 L495.5 969.3 L497.0 965.3 L498.5 961.3 L500.0 957.5 L501.5 954.3 L503.0 951.1 L504.5 948.1 L506.0 945.2 L507.5 942.5 L509.0 940.3 L510.5 938.2 L512.0 936.2 L513.5 934.3 L515.0 932.5 L516.4 931.3 L517.9 930.2 L519.3 929.1 L520.7 928.1 L522.1 927.1 L523.6 926.1 L525.0 925.0 L526.4 923.8 L527.9 922.5 L529.3 921.2 L530.7 919.8 L532.1 918.6 L533.6 917.4 L535.0 916.2 L536.5 915.4 L538.0 914.5 L539.5 913.6 L541.0 912.9 L542.5 912.5 L544.0 912.5 L545.5 912.5 L547.0 912.5 L548.5 912.5 L550.0 912.5 L551.6 910.0 L553.1 906.1 L554.7 901.6 L556.2 897.5 L557.8 893.8 L559.4 890.1 L560.9 886.7 L562.5 883.8 L564.0 882.3 L565.5 881.0 L567.0 879.8 L568.5 878.7 L570.0 877.5 L571.4 876.4 L572.9 875.4 L574.3 874.4 L575.7 873.4 L577.1 872.3 L578.6 871.2 L580.0 870.0 L581.4 868.1 L582.9 866.0 L584.3 863.8 L585.7 861.5 L587.1 859.2 L588.6 857.0 L590.0 855.0 L591.4 853.5 L592.9 852.1 L594.3 850.7 L595.7 849.4 L597.1 848.0 L598.6 846.6 L600.0 845.0 L601.5 842.7 L603.0 840.2 L604.5 837.6 L606.0 835.0 L607.5 832.5 L609.0 830.4 L610.5 828.2 L612.0 826.2 L613.5 824.3 L615.0 822.5 L616.6 821.2 L618.1 820.0 L619.7 818.9 L621.2 817.8 L622.8 816.7 L624.4 815.7 L625.9 814.7 L627.5 813.8 L629.1 812.9 L630.6 811.9 L632.2 811.0 L633.8 810.1 L635.3 809.3 L636.9 808.6 L638.4 808.0 L640.0 807.5 L641.6 807.4 L643.2 807.4 L644.8 807.3 L646.4 807.3 L648.0 807.3 L649.5 807.2 L651.1 807.2 L652.7 807.1 L654.3 807.1 L655.9 807.1 L657.5 807.0 L659.1 806.9 L660.7 806.7 L662.3 806.5 L663.9 806.3 L665.5 806.1 L667.0 805.8 L668.6 805.6 L670.2 805.4 L671.8 805.2 L673.4 805.1 L675.0 805.0 L676.4 805.0 L677.9 805.0 L679.3 805.0 L680.7 805.0 L682.1 805.0 L683.6 805.0 L685.0 805.0 L686.5 805.3 L687.9 805.7 L689.4 806.2 L690.8 806.8 L692.3 807.2 L693.8 807.5 L695.0 806.7 L696.2 805.4 L697.5 803.9 L698.8 802.5 L700.3 800.8 L701.9 799.1 L703.4 797.5 L705.0 796.2 L706.4 795.9 L707.9 795.6 L709.3 795.3 L710.7 795.0 L712.1 794.8 L713.6 794.6 L715.0 794.5 L716.4 794.5 L717.9 794.6 L719.3 794.6 L720.7 794.7 L722.1 794.8 L723.6 794.9 L725.0 795.0 L726.2 795.8 L727.5 796.9 L728.8 798.0 L730.0 798.8 L731.6 797.6 L733.1 795.7 L734.7 793.8 L736.2 792.5 L737.8 792.4 L739.3 792.3 L740.8 792.3 L742.4 792.2 L743.9 792.1 L745.4 792.1 L746.9 792.1 L748.5 792.0 L750.0 792.0 L751.6 792.0 L753.2 792.0 L754.8 792.0 L756.4 792.0 L758.0 792.0 L759.6 792.0 L761.2 792.0 L762.8 792.0 L764.4 792.0 L766.0 792.0 L767.6 792.0 L769.2 792.0 L770.8 792.0 L772.4 792.0 L774.0 792.0 L775.6 792.0 L777.2 792.0 L778.8 792.0 L780.4 792.0 L782.0 792.0 L783.6 792.0 L785.2 792.0 L786.8 792.0 L788.4 792.0 L790.0 792.0 L791.6 792.0 L793.2 792.0 L794.8 792.0 L796.4 792.0 L798.0 792.0 L799.5 792.0 L801.1 792.0 L802.7 792.0 L804.3 792.0 L805.9 792.0 L807.5 792.0 L809.1 792.0 L810.7 792.0 L812.3 792.0 L813.9 792.0 L815.5 792.0 L817.1 792.0 L818.7 792.0 L820.3 792.0 L821.9 792.0 L823.5 792.0 L825.1 792.0 L826.7 792.0 L828.3 792.0 L829.9 792.0 L831.5 792.0 L833.1 792.0 L834.7 792.0 L836.3 792.0 L837.9 792.0 L839.5 792.0 L841.1 792.0 L842.7 792.0 L844.3 792.0 L845.9 792.0 L847.5 792.0 L849.1 792.0 L850.7 792.0 L852.3 792.0 L853.9 792.0 L855.5 792.0 L857.1 792.0 L858.7 792.0 L860.3 792.0 L861.9 792.0 L863.5 792.0 L865.1 792.0 L866.7 792.0 L868.3 792.0 L869.9 792.0 L871.5 792.0 L873.1 792.0 L874.7 792.0 L876.3 792.0 L877.9 792.0 L879.5 792.0 L881.1 792.0 L882.7 792.0 L884.3 792.0 L885.9 792.0 L887.5 792.0 L889.1 792.0 L890.7 792.0 L892.3 792.0 L893.9 792.0 L895.5 792.0 L897.0 792.0 L898.6 792.0 L900.2 792.0 L901.8 792.0 L903.4 792.0 L905.0 792.0 L906.6 792.0 L908.2 792.0 L909.8 792.0 L911.4 792.0 L913.0 792.0 L914.6 792.0 L916.2 792.0 L917.8 792.0 L919.4 792.0 L921.0 792.0 L922.6 792.0 L924.2 792.0 L925.8 792.0 L927.4 792.0 L929.0 792.0 L930.6 792.0 L932.2 792.0 L933.8 792.0 L935.4 792.0 L937.0 792.0 L938.6 792.0 L940.2 792.0 L941.8 792.0 L943.4 792.0 L945.0 792.0 L946.2 793.8 L947.5 796.6 L948.8 800.0 L950.0 807.3 L951.2 816.3 L952.5 825.0 L953.8 832.9 L955.0 837.4 L956.2 847.3 L957.1 846.8 L958.0 850.0 L959.2 843.0 L960.5 845.3 L961.5 828.9 L962.5 834.4 L963.8 825.9 L965.0 835.7 L966.2 830.6 L967.8 835.7 L969.4 830.4 L970.9 831.2 L972.5 828.8 L973.8 826.4 L975.0 823.5 L976.2 820.5 L977.5 817.5 L979.1 813.7 L980.6 809.7 L982.2 805.8 L983.8 802.5 L985.3 800.2 L986.9 798.0 L988.4 796.2 L990.0 795.0 L991.4 795.0 L992.9 795.0 L994.3 795.0 L995.7 795.0 L997.1 795.0 L998.6 795.0 L1000.0 795.0 L1001.6 795.0 L1003.2 794.9 L1004.7 794.9 L1006.3 794.8 L1007.9 794.7 L1009.5 794.7 L1011.1 794.6 L1012.6 794.5 L1014.2 794.4 L1015.8 794.3 L1017.4 794.2 L1018.9 794.2 L1020.5 794.1 L1022.1 794.0 L1023.7 793.9 L1025.3 793.9 L1026.8 793.8 L1028.4 793.8 L1030.0 793.8 L1031.5 793.9 L1033.1 794.0 L1034.6 794.2 L1036.2 794.4 L1037.7 794.7 L1039.3 794.9 L1040.8 795.2 L1042.4 795.5 L1043.9 795.8 L1045.5 796.1 L1047.0 796.4 L1048.6 796.7 L1050.1 797.0 L1051.7 797.3 L1053.2 797.6 L1054.8 797.8 L1056.3 798.1 L1057.9 798.3 L1059.4 798.5 L1061.0 798.6 L1062.5 798.8 L1064.0 798.8 L1065.6 798.8 L1067.1 798.8 L1068.7 798.8 L1070.2 798.8 L1071.8 798.8 L1073.3 798.8 L1074.9 798.8 L1076.4 798.8 L1078.0 798.8 L1079.5 798.8 L1081.1 798.8 L1082.6 798.8 L1084.2 798.8 L1085.7 798.8 L1087.3 798.8 L1088.8 798.8 L1090.4 798.8 L1091.9 798.8 L1093.5 798.8 L1095.0 798.8 L1096.6 798.9 L1098.2 799.1 L1099.8 799.3 L1101.4 799.6 L1103.0 799.9 L1104.5 800.1 L1106.1 800.4 L1107.7 800.7 L1109.3 800.9 L1110.9 801.1 L1112.5 801.2 L1113.9 800.8 L1115.4 800.2 L1116.8 799.4 L1118.2 798.5 L1119.6 797.7 L1121.1 796.9 L1122.5 796.2 L1124.0 795.9 L1125.5 795.2 L1127.0 795.8 L1128.5 794.4 L1130.0 795.9 L1131.6 793.9 L1133.1 795.7 L1134.7 793.7 L1136.2 795.4 L1137.8 793.5 L1139.4 795.4 L1140.9 793.5 L1142.5 795.3 L1144.1 793.4 L1145.6 795.3 L1147.2 793.0 L1148.7 795.5 L1150.3 792.8 L1151.9 795.7 L1153.4 792.7 L1155.0 795.4 L1156.5 792.8 L1158.1 795.5 L1159.7 792.8 L1161.2 795.8 L1162.8 792.6 L1164.4 796.0 L1165.9 793.0 L1167.5 796.1 L1169.0 792.9 L1170.6 796.0 L1172.2 793.3 L1173.7 796.5 L1175.3 793.3 L1176.8 797.0 L1178.4 793.4 L1180.0 796.9 L1181.5 793.6 L1183.1 797.3 L1184.4 794.0 L1185.7 800.5 L1187.1 794.6 L1188.4 801.1 L1189.7 793.9 L1191.1 800.0 L1192.4 793.2 L1193.9 800.6 L1195.4 793.8 L1196.9 800.4 L1198.4 794.7 L1199.9 801.0 L1201.3 795.8 L1202.8 801.2 L1204.3 795.7 L1205.9 800.8 L1207.5 796.1 L1209.1 800.8 L1210.7 795.8 L1212.3 800.0 L1213.6 796.3 L1214.9 801.4 L1216.3 799.3 L1217.6 803.4 L1218.9 801.3 L1220.3 805.5 L1221.6 802.4 L1222.9 808.1 L1224.5 804.3 L1226.1 811.6 L1227.7 805.5 L1229.3 813.3 L1230.9 807.2 L1232.5 815.8 L1234.1 808.3 L1235.7 816.8 L1237.2 809.3 L1238.8 818.1 L1240.2 812.2 L1241.5 820.3 L1242.8 815.4 L1244.1 822.4 L1245.5 820.6 L1246.8 827.9 L1248.1 827.0 L1249.5 833.5 L1250.8 831.5 L1252.1 837.0 L1253.4 834.4 L1254.8 839.6 L1256.1 837.8 L1257.4 844.6 L1258.7 846.3 L1260.1 852.5 L1261.4 856.3 L1262.7 860.5 L1264.1 864.4 L1265.4 869.5 L1266.7 872.3 L1268.0 877.1 L1269.4 876.9 L1270.7 880.6 L1272.0 879.7 L1273.4 883.5 L1274.7 882.8 L1276.0 888.5 L1277.3 890.6 L1278.7 895.6 L1280.0 899.4 L1281.3 903.8 L1282.6 908.2 L1284.0 912.8 L1285.3 918.0 L1286.6 925.2 L1288.0 933.3 L1289.3 942.6 L1290.6 959.7 L1291.9 974.4 L1293.3 965.6 L1294.6 1003.3 L1295.9 955.0 L1297.2 996.2 L1298.6 957.1 L1299.9 983.2 L1301.2 958.4 L1302.6 971.2 L1303.9 955.0 L1305.2 963.0 L1306.5 950.7 L1307.9 954.5 L1309.2 938.7 L1310.5 928.9 L1311.8 919.3 L1313.2 922.4 L1314.5 927.2 L1315.8 932.6 L1317.2 940.7 L1318.5 950.1 L1319.8 959.1 L1321.1 967.3 L1322.5 975.3 L1323.8 982.4 L1325.1 986.9 L1326.4 990.9 L1327.8 994.8 L1329.1 999.0 L1330.4 1004.6 L1331.8 1008.9 L1333.1 1002.6 L1334.4 992.7 L1335.7 982.4 L1337.1 971.2 L1338.4 959.4 L1339.7 949.2 L1341.0 943.2 L1342.4 938.2 L1343.7 933.1 L1345.0 927.3 L1346.4 917.6 L1347.7 906.3 L1349.0 895.1 L1350.3 885.5 L1351.7 879.5 L1353.0 874.1 L1354.3 869.1 L1355.6 864.2 L1357.0 859.3 L1358.3 855.9 L1359.6 849.6 L1361.0 849.0 L1362.4 843.9 L1363.8 846.5 L1365.2 840.1 L1366.6 846.0 L1368.0 836.0 L1369.4 846.5 L1370.8 841.6 L1372.2 850.0 L1373.6 847.7 L1375.0 854.8 L1376.5 852.4 L1378.0 859.6 L1379.5 856.7 L1381.0 864.6 L1382.5 861.8 L1383.8 872.4 L1385.0 873.5 L1386.2 881.9 L1387.5 887.5 L1388.8 895.1 L1390.0 903.2 L1391.2 911.6 L1392.5 920.0 L1393.8 929.6 L1395.0 940.0 L1396.2 949.2 L1397.5 955.0 L1398.8 952.7 L1400.0 949.2 L1401.2 944.8 L1402.5 940.0 L1403.8 930.7 L1405.0 919.4 L1406.2 907.1 L1407.5 895.0 L1408.8 882.1 L1410.0 868.6 L1411.2 855.8 L1412.5 845.0 L1413.8 839.1 L1415.0 834.0 L1416.2 829.3 L1417.5 825.0 L1419.0 821.0 L1420.4 816.9 L1421.9 813.0 L1423.3 809.6 L1424.8 806.9 L1426.2 805.0 L1427.5 806.1 L1428.8 807.9 L1430.0 810.1 L1431.2 812.5 L1432.5 818.0 L1433.8 824.4 L1435.0 828.8 L1436.2 824.3 L1437.5 821.0 L1438.8 813.1 L1440.2 815.4 L1441.7 810.7 L1443.1 812.1 L1444.6 809.2 L1446.0 809.2 L1447.5 807.5 L1448.9 805.8 L1450.4 803.8 L1451.8 801.7 L1453.2 799.7 L1454.6 797.8 L1456.1 796.2 L1457.5 795.0 L1459.1 794.6 L1460.6 794.3 L1462.2 794.0 L1463.8 793.8 L1465.3 793.5 L1466.9 793.3 L1468.4 793.2 L1470.0 793.0 L1471.6 792.9 L1473.2 792.9 L1474.8 792.8 L1476.4 792.8 L1478.0 792.7 L1479.5 792.7 L1481.1 792.6 L1482.7 792.6 L1484.3 792.5 L1485.9 792.5 L1487.5 792.5 L1489.1 792.6 L1490.7 792.6 L1492.3 792.7 L1493.9 792.8 L1495.5 792.9 L1497.0 793.0 L1498.6 793.1 L1500.2 793.3 L1501.8 793.4 L1503.4 793.6 L1505.0 793.8 L1506.4 794.4 L1507.9 795.3 L1509.3 796.4 L1510.7 797.5 L1512.1 798.6 L1513.6 799.4 L1515.0 800.0 L1516.6 800.0 L1518.1 799.9 L1519.7 799.8 L1521.2 799.8 L1522.8 799.7 L1524.4 799.6 L1525.9 799.5 L1527.5 799.5 L1529.0 800.1 L1530.4 801.1 L1531.9 802.2 L1533.3 803.4 L1534.8 804.4 L1536.2 805.0 L1537.7 805.0 L1539.1 804.9 L1540.5 804.8 L1541.9 804.8 L1543.3 804.7 L1544.7 804.6 L1546.1 804.5 L1547.5 804.5 L1548.9 804.8 L1550.4 805.3 L1551.8 805.9 L1553.2 806.6 L1554.6 807.3 L1556.1 808.0 L1557.5 808.8 L1559.0 809.8 L1560.4 811.0 L1561.9 812.2 L1563.3 813.4 L1564.8 814.4 L1566.2 815.0 L1567.7 814.4 L1569.2 813.6 L1570.6 812.5 L1572.1 811.4 L1573.5 810.6 L1575.0 810.0 L1576.2 813.1 L1577.5 817.9 L1578.8 822.5 L1580.0 826.4 L1581.2 830.1 L1582.5 832.5 L1583.8 829.5 L1585.0 824.9 L1586.2 820.0 L1587.5 813.9 L1588.8 807.5 L1590.0 802.5 L1591.5 800.5 L1593.0 798.7 L1594.5 797.3 L1596.0 796.0 L1597.5 795.0 L1599.1 794.5 L1600.6 794.0 L1602.2 793.5 L1603.8 793.1 L1605.3 792.8 L1606.9 792.4 L1608.4 792.2 L1610.0 792.0 L1611.4 792.1 L1612.9 792.3 L1614.3 792.5 L1615.7 792.7 L1617.1 793.0 L1618.6 793.4 L1620.0 793.8 L1621.2 795.6 L1622.5 798.3 L1623.8 800.9 L1625.0 802.5 L1626.6 800.7 L1628.1 797.8 L1629.7 794.9 L1631.2 793.0 L1632.8 792.9 L1634.4 792.9 L1635.9 792.8 L1637.5 792.8 L1639.1 792.7 L1640.6 792.7 L1642.2 792.6 L1643.8 792.6 L1645.3 792.6 L1646.9 792.5 L1648.4 792.5 L1650.0 792.5 L1651.4 792.8 L1652.9 793.2 L1654.3 793.7 L1655.7 794.2 L1657.1 794.9 L1658.6 795.5 L1660.0 796.2 L1661.5 797.7 L1662.9 799.3 L1664.4 801.2 L1665.8 803.2 L1667.3 805.3 L1668.8 807.5 L1670.3 810.8 L1671.9 814.6 L1673.4 818.3 L1675.0 821.2 L1676.6 822.8 L1678.1 824.3 L1679.7 825.5 L1681.2 826.2 L1682.7 826.0 L1684.2 825.6 L1685.6 825.2 L1687.1 824.7 L1688.5 824.2 L1690.0 823.8 L1691.6 823.5 L1693.1 823.2 L1694.7 822.9 L1696.2 822.5 L1697.5 819.7 L1698.8 815.6 L1700.0 811.2 L1701.2 807.5 L1702.8 805.1 L1704.2 802.9 L1705.8 800.9 L1707.2 799.1 L1708.8 797.5 L1710.2 796.5 L1711.7 795.4 L1713.1 794.5 L1714.6 793.6 L1716.0 793.0 L1717.5 792.5 L1718.9 792.8 L1720.4 793.2 L1721.8 793.6 L1723.2 794.2 L1724.6 794.8 L1726.1 795.5 L1727.5 796.2 L1729.0 798.2 L1730.4 800.6 L1731.9 803.4 L1733.3 806.4 L1734.8 809.5 L1736.2 812.5 L1737.7 816.0 L1739.2 819.8 L1740.6 823.7 L1742.1 827.6 L1743.5 831.4 L1745.0 835.0 L1746.2 837.4 L1747.5 839.7 L1748.8 842.0 L1750.0 845.0 L1751.2 852.2 L1752.5 861.1 L1753.8 870.0 L1755.0 879.3 L1756.2 888.6 L1757.5 895.0 L1758.8 895.9 L1760.0 896.6 L1761.2 897.2 L1762.5 897.5 L1764.1 896.7 L1765.6 895.6 L1767.2 894.1 L1768.8 892.5 L1770.3 889.4 L1771.9 885.6 L1773.4 881.5 L1775.0 877.5 L1776.6 873.8 L1778.1 870.2 L1779.7 866.5 L1781.2 862.5 L1782.8 857.0 L1784.4 850.9 L1785.9 845.0 L1787.5 840.0 L1788.8 837.7 L1790.0 835.6 L1791.2 833.8 L1792.5 832.5 L1794.0 832.1 L1795.5 831.8 L1797.0 831.6 L1798.5 831.4 L1800.0 831.2 L1801.5 832.5 L1803.0 834.5 L1804.5 836.9 L1806.0 839.7 L1807.5 842.5 L1808.8 846.5 L1810.0 851.2 L1811.2 855.9 L1812.5 860.0 L1813.8 862.7 L1815.0 865.2 L1816.2 867.4 L1817.5 868.8 L1818.8 867.4 L1820.0 865.2 L1821.2 862.6 L1822.5 860.0 L1823.8 856.8 L1825.0 853.4 L1826.2 850.0"/>
<path stroke="#505050" d="M195.0 1591.2 L196.2 1592.5 L197.8 1592.3 L199.4 1592.0 L200.9 1591.6 L202.5 1591.1 L204.1 1590.7 L205.6 1590.1 L207.2 1589.6 L208.8 1589.0 L210.3 1588.7 L211.9 1587.6 L213.4 1587.7 L215.0 1586.5 L216.5 1586.8 L218.0 1585.4 L219.4 1585.6 L220.9 1583.9 L222.4 1584.6 L223.9 1582.7 L225.3 1583.8 L226.8 1581.5 L228.3 1582.9 L229.8 1580.5 L231.2 1582.4 L232.8 1580.1 L234.4 1586.7 L235.9 1579.5 L237.5 1590.8 L239.1 1579.5 L240.6 1586.0 L242.2 1579.3 L243.8 1580.9 L245.2 1578.9 L246.7 1581.2 L248.1 1578.8 L249.6 1581.9 L251.0 1578.1 L252.5 1582.3 L254.0 1576.2 L255.5 1584.6 L257.0 1573.1 L258.5 1586.0 L260.0 1570.6 L261.2 1588.2 L262.5 1569.6 L264.0 1588.8 L265.5 1571.9 L267.0 1582.2 L268.5 1570.3 L270.0 1578.8 L271.5 1568.4 L273.0 1576.4 L274.5 1566.5 L276.0 1574.3 L277.5 1564.3 L279.0 1572.4 L280.5 1562.0 L282.0 1571.3 L283.5 1559.5 L285.0 1569.9 L286.2 1557.9 L287.5 1567.7 L288.8 1556.5 L290.0 1564.8 L291.5 1556.5 L293.0 1561.6 L294.5 1554.4 L296.0 1558.4 L297.5 1554.2 L298.8 1556.8 L300.0 1555.2 L301.2 1556.4 L302.5 1556.2 L303.8 1558.8 L305.0 1559.8 L306.2 1564.6 L307.5 1560.6 L308.8 1569.4 L310.0 1560.5 L311.5 1570.3 L313.0 1559.0 L314.5 1567.6 L316.0 1557.6 L317.5 1566.7 L318.8 1554.2 L320.0 1560.6 L321.2 1550.8 L322.5 1556.0 L323.8 1548.7 L325.0 1556.2 L326.2 1547.2 L327.5 1557.3 L329.1 1546.7 L330.6 1556.6 L332.2 1546.0 L333.8 1554.5 L335.3 1545.2 L336.9 1556.1 L338.4 1547.0 L340.0 1559.1 L341.2 1547.3 L342.5 1561.9 L343.8 1550.3 L345.0 1566.7 L346.2 1550.6 L347.5 1565.1 L348.8 1551.0 L350.0 1562.2 L351.2 1553.5 L352.5 1569.2 L353.8 1556.9 L355.0 1576.8 L356.5 1559.4 L358.0 1577.7 L359.5 1560.1 L361.0 1577.9 L362.5 1563.2 L364.0 1578.8 L365.4 1566.3 L366.9 1578.0 L368.3 1567.6 L369.8 1578.7 L371.2 1571.2 L372.8 1578.5 L374.4 1574.4 L375.9 1579.7 L377.5 1577.7 L378.8 1581.4 L380.0 1579.2 L381.2 1583.7 L382.5 1581.0 L384.0 1586.0 L385.5 1581.9 L387.0 1587.4 L388.5 1582.7 L390.0 1589.3 L391.2 1584.3 L392.5 1590.6 L393.8 1584.2 L395.0 1593.6 L396.5 1585.6 L398.0 1592.1 L399.5 1586.5 L401.0 1591.2 L402.5 1587.9 L404.1 1591.0 L405.6 1588.7 L407.2 1591.8 L408.8 1589.7 L410.3 1592.5 L411.9 1590.5 L413.4 1593.0 L415.0 1591.5 L416.4 1593.8 L417.9 1592.2 L419.3 1594.0 L420.8 1592.6 L422.2 1594.4 L423.7 1593.4 L425.1 1594.7 L426.6 1593.7 L428.0 1594.8 L429.5 1593.9 L431.0 1594.5 L432.5 1593.6 L434.0 1593.7 L435.5 1593.5 L437.0 1593.3 L438.5 1593.1 L440.0 1593.0 L441.6 1593.0 L443.1 1593.0 L444.7 1593.0 L446.2 1593.0 L447.8 1593.0 L449.4 1593.0 L450.9 1593.0 L452.5 1593.0 L454.1 1593.0 L455.6 1593.0 L457.2 1593.0 L458.8 1593.0 L460.3 1593.0 L461.9 1593.0 L463.4 1593.0 L465.0 1593.0 L466.6 1593.0 L468.1 1593.0 L469.7 1593.0 L471.2 1593.0 L472.8 1593.0 L474.4 1593.0 L475.9 1593.0 L477.5 1593.0 L479.1 1593.0 L480.6 1593.0 L482.2 1593.0 L483.8 1593.0 L485.3 1593.0 L486.9 1593.0 L488.4 1593.0 L490.0 1593.0 L491.5 1592.7 L493.1 1592.4 L494.6 1591.9 L496.2 1591.4 L497.7 1590.8 L499.2 1590.2 L500.8 1589.6 L502.3 1589.0 L503.8 1588.3 L505.4 1587.7 L506.9 1587.2 L508.5 1586.7 L510.0 1586.2 L511.6 1586.0 L513.2 1585.7 L514.8 1585.5 L516.4 1585.3 L518.0 1585.1 L519.5 1584.9 L521.1 1584.7 L522.7 1584.5 L524.3 1584.2 L525.9 1584.0 L527.5 1583.8 L529.1 1583.4 L530.7 1583.0 L532.3 1582.6 L533.9 1582.2 L535.5 1581.7 L537.0 1581.3 L538.6 1580.8 L540.2 1580.3 L541.8 1579.8 L543.4 1579.3 L545.0 1578.8 L546.5 1578.0 L548.1 1577.3 L549.6 1576.4 L551.2 1575.6 L552.7 1574.7 L554.2 1573.8 L555.8 1572.9 L557.3 1572.0 L558.8 1571.1 L560.4 1570.1 L561.9 1569.2 L563.5 1568.4 L565.0 1567.5 L566.6 1566.7 L568.1 1565.9 L569.7 1565.0 L571.2 1564.2 L572.8 1563.4 L574.4 1562.6 L575.9 1561.8 L577.5 1561.0 L579.1 1560.2 L580.6 1559.4 L582.2 1558.6 L583.8 1557.8 L585.3 1557.1 L586.9 1556.4 L588.4 1555.7 L590.0 1555.0 L591.6 1554.5 L593.1 1554.0 L594.7 1553.5 L596.2 1553.0 L597.8 1552.5 L599.4 1552.0 L600.9 1551.6 L602.5 1551.1 L604.1 1550.7 L605.6 1550.3 L607.2 1549.8 L608.8 1549.4 L610.3 1548.9 L611.9 1548.4 L613.4 1548.0 L615.0 1547.5 L616.5 1547.0 L618.0 1546.5 L619.5 1546.1 L621.0 1545.6 L622.5 1545.1 L624.0 1544.6 L625.5 1544.1 L627.0 1543.6 L628.5 1543.1 L630.0 1542.5 L631.6 1541.8 L633.1 1541.0 L634.7 1540.1 L636.2 1539.2 L637.8 1538.4 L639.4 1537.6 L640.9 1536.9 L642.5 1536.2 L643.9 1535.9 L645.4 1535.6 L646.8 1535.3 L648.2 1535.1 L649.6 1534.8 L651.1 1534.6 L652.5 1534.5 L654.0 1534.5 L655.5 1534.5 L657.0 1534.5 L658.5 1534.5 L660.0 1534.5 L661.5 1534.9 L662.9 1535.4 L664.4 1536.2 L665.8 1537.0 L667.3 1537.8 L668.8 1538.8 L670.2 1540.5 L671.8 1542.5 L673.2 1544.7 L674.8 1546.9 L676.2 1548.8 L677.7 1549.9 L679.2 1550.8 L680.6 1551.7 L682.1 1552.7 L683.5 1553.7 L685.0 1555.0 L686.6 1558.5 L688.1 1563.0 L689.7 1567.6 L691.2 1571.2 L692.5 1572.8 L693.8 1574.1 L695.0 1575.0 L696.2 1574.2 L697.5 1572.9 L698.8 1571.2 L700.0 1567.0 L701.2 1561.8 L702.5 1557.5 L704.0 1555.5 L705.5 1553.8 L707.0 1552.3 L708.5 1551.1 L710.0 1550.0 L711.4 1549.5 L712.9 1549.1 L714.3 1548.6 L715.7 1548.3 L717.1 1547.9 L718.6 1547.7 L720.0 1547.5 L721.5 1547.5 L722.9 1547.5 L724.4 1547.5 L725.8 1547.5 L727.3 1547.5 L728.8 1547.5 L730.0 1543.7 L731.2 1537.8 L732.5 1532.5 L733.8 1529.2 L735.0 1526.2 L736.2 1523.8 L737.7 1522.5 L739.1 1521.4 L740.5 1520.4 L741.9 1519.5 L743.3 1518.7 L744.7 1517.9 L746.1 1517.1 L747.5 1516.2 L749.1 1515.4 L750.7 1514.5 L752.3 1513.7 L753.9 1512.8 L755.5 1512.0 L757.0 1511.2 L758.6 1510.4 L760.2 1509.7 L761.8 1508.9 L763.4 1508.2 L765.0 1507.5 L766.6 1507.0 L768.1 1506.5 L769.7 1506.0 L771.2 1505.5 L772.8 1505.0 L774.4 1504.6 L775.9 1504.1 L777.5 1503.7 L779.1 1503.2 L780.6 1502.8 L782.2 1502.3 L783.8 1501.9 L785.3 1501.4 L786.9 1501.0 L788.4 1500.5 L790.0 1500.0 L791.6 1499.4 L793.2 1498.8 L794.8 1498.2 L796.4 1497.6 L798.0 1497.0 L799.5 1496.4 L801.1 1495.8 L802.7 1495.1 L804.3 1494.5 L805.9 1493.9 L807.5 1493.2 L809.1 1492.6 L810.7 1491.9 L812.3 1491.3 L813.9 1490.7 L815.5 1490.0 L817.0 1489.4 L818.6 1488.7 L820.2 1488.1 L821.8 1487.5 L823.4 1486.9 L825.0 1486.2 L826.6 1485.7 L828.1 1485.1 L829.7 1484.5 L831.2 1483.9 L832.8 1483.3 L834.4 1482.8 L835.9 1482.2 L837.5 1481.6 L839.1 1481.0 L840.6 1480.4 L842.2 1479.9 L843.8 1479.3 L845.3 1478.7 L846.9 1478.1 L848.4 1477.6 L850.0 1477.0 L851.6 1476.4 L853.1 1475.9 L854.7 1475.3 L856.2 1474.7 L857.8 1474.2 L859.4 1473.6 L860.9 1473.1 L862.5 1472.5 L864.1 1472.0 L865.6 1471.4 L867.2 1470.9 L868.8 1470.4 L870.3 1469.9 L871.9 1469.3 L873.4 1468.8 L875.0 1468.3 L876.6 1467.8 L878.1 1467.3 L879.7 1466.7 L881.2 1466.2 L882.8 1465.7 L884.4 1465.2 L885.9 1464.7 L887.5 1464.2 L889.1 1463.7 L890.6 1463.1 L892.2 1462.6 L893.8 1462.1 L895.3 1461.6 L896.9 1461.1 L898.4 1460.5 L900.0 1460.0 L901.6 1459.5 L903.1 1458.9 L904.7 1458.4 L906.2 1457.8 L907.8 1457.3 L909.4 1456.7 L910.9 1456.1 L912.5 1455.6 L914.1 1455.0 L915.6 1454.5 L917.2 1453.9 L918.8 1453.4 L920.3 1452.8 L921.9 1452.3 L923.4 1451.8 L925.0 1451.2 L926.5 1450.8 L928.0 1450.4 L929.6 1450.0 L931.1 1449.7 L932.6 1449.3 L934.1 1449.0 L935.6 1448.6 L937.1 1448.2 L938.7 1447.8 L940.2 1447.4 L941.7 1446.9 L943.2 1446.3 L944.7 1445.7 L946.2 1445.0 L947.5 1443.1 L948.8 1440.5 L950.0 1437.5 L951.2 1431.4 L952.5 1424.1 L953.8 1417.5 L955.0 1413.0 L956.2 1408.5 L957.5 1404.9 L958.8 1402.5 L960.0 1406.7 L961.2 1406.5 L962.5 1417.5 L963.8 1412.2 L965.0 1424.3 L966.2 1412.1 L967.5 1419.0 L968.8 1410.9 L970.3 1416.0 L971.9 1412.6 L973.4 1415.3 L975.0 1415.0 L976.5 1416.8 L978.0 1419.4 L979.5 1422.3 L981.0 1425.1 L982.5 1427.5 L984.0 1429.0 L985.5 1430.5 L987.0 1431.9 L988.5 1433.0 L990.0 1433.8 L991.5 1433.7 L993.0 1433.6 L994.5 1433.5 L996.0 1433.4 L997.5 1433.3 L999.0 1433.1 L1000.5 1433.0 L1002.0 1432.8 L1003.5 1432.7 L1005.0 1432.5 L1006.6 1432.2 L1008.1 1431.8 L1009.7 1431.4 L1011.2 1431.0 L1012.8 1430.5 L1014.4 1430.0 L1015.9 1429.5 L1017.5 1429.0 L1019.1 1428.5 L1020.6 1428.0 L1022.2 1427.4 L1023.8 1426.9 L1025.3 1426.4 L1026.9 1425.9 L1028.4 1425.4 L1030.0 1425.0 L1031.5 1424.6 L1033.1 1424.2 L1034.6 1423.9 L1036.2 1423.5 L1037.7 1423.2 L1039.3 1422.8 L1040.8 1422.5 L1042.4 1422.2 L1043.9 1421.8 L1045.5 1421.5 L1047.0 1421.2 L1048.6 1420.8 L1050.1 1420.5 L1051.7 1420.1 L1053.2 1419.8 L1054.8 1419.4 L1056.3 1419.1 L1057.9 1418.7 L1059.4 1418.3 L1061.0 1417.9 L1062.5 1417.5 L1064.1 1417.0 L1065.6 1416.4 L1067.2 1415.8 L1068.8 1415.1 L1070.3 1414.5 L1071.9 1413.8 L1073.4 1413.2 L1075.0 1412.5 L1076.6 1411.8 L1078.1 1411.1 L1079.7 1410.5 L1081.2 1409.8 L1082.8 1409.2 L1084.4 1408.6 L1085.9 1408.0 L1087.5 1407.5 L1089.1 1407.1 L1090.6 1406.8 L1092.2 1406.4 L1093.8 1406.1 L1095.3 1405.4 L1096.9 1405.8 L1098.4 1404.7 L1100.0 1405.0 L1101.5 1403.5 L1103.0 1403.8 L1104.5 1402.0 L1106.0 1402.2 L1107.5 1400.6 L1109.0 1400.5 L1110.5 1398.9 L1112.0 1399.0 L1113.5 1397.2 L1115.0 1397.5 L1116.5 1395.4 L1118.0 1395.9 L1119.5 1393.5 L1121.0 1394.3 L1122.5 1392.0 L1124.0 1393.0 L1125.5 1389.9 L1127.0 1391.5 L1128.5 1388.3 L1130.0 1390.0 L1131.5 1386.3 L1133.0 1388.2 L1134.5 1384.6 L1136.0 1387.0 L1137.5 1382.9 L1139.0 1385.3 L1140.5 1381.3 L1142.0 1383.6 L1143.5 1379.6 L1145.0 1381.9 L1146.5 1377.5 L1148.0 1380.5 L1149.5 1375.4 L1151.0 1378.9 L1152.5 1373.6 L1154.0 1378.1 L1155.5 1372.4 L1157.0 1377.0 L1158.5 1371.2 L1160.0 1375.6 L1161.5 1370.7 L1163.0 1374.6 L1164.5 1369.3 L1166.0 1372.5 L1167.5 1367.5 L1169.0 1370.9 L1170.5 1366.2 L1172.0 1369.5 L1173.5 1365.0 L1174.9 1368.5 L1176.3 1363.8 L1177.7 1369.2 L1179.1 1362.2 L1180.5 1369.5 L1181.9 1361.2 L1183.2 1370.0 L1184.6 1361.0 L1185.9 1374.2 L1187.2 1361.8 L1188.7 1375.1 L1190.1 1360.2 L1191.6 1374.5 L1193.1 1360.5 L1194.5 1372.3 L1196.1 1361.1 L1197.7 1374.0 L1199.3 1362.3 L1200.8 1372.8 L1202.2 1361.7 L1203.6 1372.5 L1205.0 1360.7 L1206.4 1371.2 L1207.8 1359.1 L1209.2 1369.1 L1210.6 1360.6 L1212.0 1366.7 L1213.4 1361.7 L1214.8 1368.1 L1216.2 1362.9 L1217.6 1375.9 L1219.2 1366.0 L1220.8 1376.9 L1222.4 1366.4 L1223.9 1378.1 L1225.3 1367.7 L1226.6 1383.3 L1227.9 1369.3 L1229.2 1386.9 L1230.8 1372.5 L1232.4 1387.7 L1233.9 1374.7 L1235.5 1389.2 L1236.9 1376.4 L1238.3 1394.1 L1239.7 1383.4 L1241.0 1399.3 L1242.3 1388.9 L1243.6 1405.9 L1245.0 1394.7 L1246.5 1413.8 L1248.1 1403.8 L1249.1 1416.1 L1250.0 1397.9 L1251.3 1414.6 L1252.6 1400.7 L1253.8 1420.9 L1255.1 1405.8 L1256.6 1429.1 L1258.2 1415.7 L1259.7 1439.8 L1261.2 1427.3 L1262.8 1454.7 L1264.4 1443.1 L1265.9 1470.0 L1267.5 1458.7 L1269.1 1488.5 L1270.7 1473.3 L1272.3 1501.4 L1273.9 1489.4 L1275.5 1517.4 L1276.8 1506.3 L1278.1 1527.1 L1279.3 1520.3 L1280.6 1539.7 L1281.9 1537.4 L1283.2 1558.6 L1284.4 1561.1 L1285.7 1583.1 L1287.0 1592.4 L1288.3 1588.9 L1289.6 1574.7 L1290.8 1572.9 L1292.1 1552.7 L1293.4 1563.0 L1294.7 1547.6 L1295.9 1560.1 L1297.2 1546.1 L1298.5 1548.7 L1299.8 1526.3 L1301.0 1523.5 L1302.3 1508.6 L1303.6 1504.4 L1304.9 1497.1 L1306.1 1494.8 L1307.4 1494.9 L1308.7 1496.5 L1310.0 1495.6 L1311.2 1498.8 L1312.5 1497.1 L1313.8 1502.6 L1315.1 1500.5 L1316.3 1512.8 L1317.6 1514.2 L1318.9 1531.9 L1320.2 1528.9 L1321.5 1545.6 L1322.7 1539.0 L1324.0 1557.1 L1325.3 1552.7 L1326.6 1571.1 L1327.8 1570.2 L1329.1 1586.3 L1330.4 1588.2 L1331.7 1593.7 L1332.9 1581.3 L1334.2 1576.6 L1335.5 1549.5 L1336.8 1546.3 L1338.0 1521.6 L1339.3 1531.6 L1340.6 1502.4 L1341.9 1517.7 L1343.1 1489.5 L1344.4 1508.8 L1345.7 1474.8 L1347.0 1486.9 L1348.2 1457.0 L1349.5 1466.0 L1350.8 1440.5 L1352.1 1453.7 L1353.3 1429.8 L1354.6 1442.4 L1355.9 1420.5 L1357.2 1435.3 L1358.5 1415.0 L1359.7 1425.0 L1361.0 1406.3 L1362.3 1417.4 L1363.6 1399.5 L1364.8 1404.6 L1366.1 1391.9 L1367.4 1392.5 L1368.7 1393.8 L1369.9 1407.9 L1371.2 1405.8 L1372.5 1427.3 L1373.8 1422.9 L1375.0 1446.9 L1376.3 1429.8 L1377.6 1450.5 L1378.9 1434.7 L1380.1 1455.0 L1381.4 1439.0 L1382.7 1459.6 L1384.0 1446.1 L1385.2 1463.6 L1386.5 1457.9 L1387.8 1479.5 L1389.1 1476.4 L1390.4 1495.4 L1391.6 1495.5 L1392.9 1510.9 L1394.2 1510.9 L1395.5 1520.8 L1396.7 1522.1 L1398.0 1519.8 L1399.3 1506.2 L1400.6 1505.9 L1401.8 1485.3 L1403.1 1488.3 L1404.4 1464.6 L1405.7 1470.7 L1406.9 1453.2 L1408.2 1458.0 L1409.8 1450.1 L1411.4 1457.2 L1413.0 1448.9 L1414.6 1456.3 L1415.9 1447.5 L1417.1 1453.5 L1418.4 1440.9 L1419.7 1450.1 L1421.0 1430.7 L1422.2 1435.0 L1423.5 1417.8 L1424.8 1420.9 L1426.1 1412.4 L1427.4 1412.5 L1428.6 1412.6 L1429.9 1421.0 L1431.2 1418.0 L1432.5 1430.3 L1433.7 1426.6 L1435.0 1440.6 L1436.3 1435.1 L1437.6 1448.2 L1438.8 1442.3 L1440.1 1452.8 L1441.4 1450.5 L1442.7 1456.4 L1443.9 1452.4 L1445.2 1453.7 L1446.5 1446.4 L1447.8 1444.4 L1449.0 1430.4 L1450.3 1428.2 L1451.6 1412.5 L1452.9 1410.6 L1454.1 1395.5 L1455.4 1396.3 L1456.7 1383.9 L1458.0 1382.4 L1459.1 1370.4 L1460.2 1363.9 L1461.2 1357.5 L1462.5 1358.7 L1463.8 1360.6 L1465.0 1362.5 L1466.2 1363.8 L1467.8 1363.6 L1469.2 1363.4 L1470.8 1363.2 L1472.2 1362.9 L1473.8 1362.5 L1475.3 1360.1 L1476.9 1356.7 L1478.4 1353.0 L1480.0 1350.0 L1481.5 1348.4 L1483.0 1346.9 L1484.5 1345.6 L1486.0 1344.5 L1487.5 1343.8 L1489.1 1344.7 L1490.6 1346.2 L1492.2 1348.1 L1493.8 1350.0 L1495.3 1352.7 L1496.9 1355.7 L1498.4 1359.0 L1500.0 1362.5 L1501.2 1366.4 L1502.5 1370.6 L1503.8 1375.1 L1505.0 1380.0 L1506.2 1386.7 L1507.5 1394.1 L1508.8 1401.9 L1510.0 1410.0 L1511.2 1419.5 L1512.5 1429.6 L1513.8 1440.0 L1515.0 1450.6 L1516.2 1465.6 L1517.5 1471.4 L1518.8 1487.2 L1520.0 1493.2 L1521.2 1500.0 L1522.5 1486.3 L1523.8 1479.1 L1525.0 1464.2 L1526.2 1462.1 L1527.5 1456.2 L1528.8 1471.6 L1530.0 1481.6 L1531.2 1489.1 L1532.5 1487.0 L1533.8 1490.0 L1535.0 1499.7 L1536.2 1510.0 L1537.8 1514.3 L1539.2 1517.6 L1540.8 1520.5 L1542.2 1523.6 L1543.8 1527.5 L1545.0 1533.5 L1546.2 1540.4 L1547.5 1547.5 L1548.8 1555.1 L1550.0 1563.1 L1551.2 1570.8 L1552.5 1577.5 L1553.8 1582.1 L1555.0 1586.5 L1556.2 1590.2 L1557.5 1592.5 L1558.8 1591.4 L1560.0 1589.6 L1561.2 1587.4 L1562.5 1585.0 L1563.8 1580.2 L1565.0 1574.4 L1566.2 1568.2 L1567.5 1562.5 L1568.8 1557.5 L1570.0 1552.5 L1571.2 1548.1 L1572.5 1545.0 L1574.0 1544.4 L1575.5 1543.9 L1577.0 1543.5 L1578.5 1543.1 L1580.0 1542.5 L1581.2 1540.7 L1582.5 1538.3 L1583.8 1535.5 L1585.0 1532.5 L1586.2 1527.5 L1587.5 1521.6 L1588.8 1515.5 L1590.0 1510.0 L1591.5 1505.4 L1593.0 1501.5 L1594.5 1497.7 L1596.0 1493.2 L1597.5 1487.5 L1598.8 1475.0 L1600.0 1460.0 L1601.2 1443.4 L1602.5 1427.5 L1603.8 1416.1 L1605.0 1405.8 L1606.2 1397.5 L1607.5 1393.5 L1608.8 1389.9 L1610.0 1387.0 L1611.2 1385.0 L1612.7 1384.7 L1614.2 1384.5 L1615.6 1384.4 L1617.1 1384.2 L1618.5 1384.0 L1620.0 1383.8 L1621.5 1382.2 L1622.9 1379.9 L1624.4 1377.3 L1625.8 1374.8 L1627.3 1372.6 L1628.8 1371.2 L1630.3 1373.1 L1631.9 1375.9 L1633.4 1379.2 L1635.0 1382.5 L1636.2 1385.8 L1637.5 1389.5 L1638.8 1392.9 L1640.0 1395.0 L1641.6 1393.1 L1643.1 1390.1 L1644.7 1386.4 L1646.2 1382.5 L1647.5 1377.4 L1648.8 1371.5 L1650.0 1365.4 L1651.2 1360.0 L1652.8 1355.0 L1654.4 1350.1 L1655.9 1345.8 L1657.5 1342.5 L1658.9 1341.3 L1660.4 1340.1 L1661.8 1339.1 L1663.2 1338.1 L1664.6 1337.3 L1666.1 1336.7 L1667.5 1336.2 L1669.1 1336.6 L1670.6 1337.0 L1672.2 1337.5 L1673.8 1338.1 L1675.3 1338.8 L1676.9 1339.5 L1678.4 1340.4 L1680.0 1341.2 L1681.5 1343.2 L1683.0 1345.6 L1684.5 1348.4 L1686.0 1351.5 L1687.5 1355.0 L1688.8 1360.6 L1690.0 1364.9 L1691.2 1374.6 L1692.5 1377.7 L1693.8 1393.7 L1695.0 1405.4 L1696.2 1415.0 L1697.5 1411.4 L1698.8 1408.9 L1700.0 1400.2 L1701.2 1395.7 L1702.5 1384.2 L1703.8 1378.8 L1705.2 1379.5 L1706.8 1380.6 L1708.2 1381.9 L1709.8 1383.4 L1711.2 1385.0 L1712.8 1387.5 L1714.2 1390.3 L1715.8 1393.4 L1717.2 1396.7 L1718.8 1400.0 L1720.3 1404.4 L1721.9 1409.1 L1723.4 1413.7 L1725.0 1417.5 L1726.5 1419.3 L1728.0 1420.8 L1729.5 1422.2 L1731.0 1423.6 L1732.5 1425.0 L1734.0 1426.4 L1735.5 1427.7 L1737.0 1429.1 L1738.5 1430.6 L1740.0 1432.5 L1741.2 1436.5 L1742.5 1441.5 L1743.8 1447.0 L1745.0 1452.5 L1746.2 1459.0 L1747.5 1466.0 L1748.8 1472.5 L1750.0 1477.5 L1751.5 1479.3 L1753.0 1480.7 L1754.5 1482.0 L1756.0 1483.3 L1757.5 1485.0 L1758.8 1488.1 L1760.0 1491.9 L1761.2 1495.9 L1762.5 1500.0 L1763.8 1504.6 L1765.0 1509.5 L1766.2 1514.0 L1767.5 1517.5 L1768.9 1518.9 L1770.4 1520.1 L1771.8 1521.1 L1773.2 1522.0 L1774.6 1522.9 L1776.1 1523.8 L1777.5 1525.0 L1779.0 1526.8 L1780.5 1528.6 L1782.0 1530.7 L1783.5 1532.8 L1785.0 1535.0 L1786.6 1538.3 L1788.1 1542.0 L1789.7 1545.4 L1791.2 1547.5 L1792.8 1547.4 L1794.3 1547.3 L1795.8 1547.1 L1797.4 1547.0 L1798.9 1546.8 L1800.4 1546.6 L1801.9 1546.5 L1803.5 1546.3 L1805.0 1546.2 L1806.2 1548.4 L1807.5 1551.7 L1808.8 1555.7 L1810.0 1560.0 L1811.2 1567.0 L1812.5 1575.1 L1813.8 1582.5 L1815.0 1588.4 L1816.2 1592.5 L1817.5 1590.8 L1818.8 1588.1 L1820.0 1585.0 L1821.2 1578.7 L1822.5 1571.2 L1823.8 1565.0 L1825.0 1562.3 L1826.2 1560.0"/>
</g>
<line x1="1409.5" y1="440.7" x2="1554" y2="440.7" stroke="#1f6ae0" stroke-width="10"/>
<line x1="1409.5" y1="519.2" x2="1554" y2="519.2" stroke="#f6414a" stroke-width="10"/>
<line x1="1409.5" y1="597.5" x2="1554" y2="597.5" stroke="#505050" stroke-width="10"/>
</g>
<g filter="url(#soft)" font-family="'Liberation Serif', 'DejaVu Serif', serif" font-weight="bold" fill="#0a0a0a" style="font-kerning:none">
<text transform="translate(195.2,1749) scale(0.975,1)" font-size="89" text-anchor="middle">4000</text>
<text transform="translate(427.9,1749) scale(0.975,1)" font-size="89" text-anchor="middle">3500</text>
<text transform="translate(660.6,1749) scale(0.975,1)" font-size="89" text-anchor="middle">3000</text>
<text transform="translate(893.3,1749) scale(0.975,1)" font-size="89" text-anchor="middle">2500</text>
<text transform="translate(1126.0,1749) scale(0.975,1)" font-size="89" text-anchor="middle">2000</text>
<text transform="translate(1358.7,1749) scale(0.975,1)" font-size="89" text-anchor="middle">1500</text>
<text transform="translate(1591.4,1749) scale(0.975,1)" font-size="89" text-anchor="middle">1000</text>
<text transform="translate(1824.1,1749) scale(0.975,1)" font-size="89" text-anchor="middle">500</text>
<text transform="translate(637,1925) scale(0.95,1)" font-size="88" letter-spacing="1.5">Wavenumber, cm<tspan x="685.6" dy="-13.5" font-weight="normal" font-size="110" letter-spacing="0">−</tspan><tspan x="741.6" dy="-14.5" font-weight="normal" letter-spacing="0">1</tspan></text>
<text transform="translate(101.5,1173) rotate(-90) scale(0.96,1)" font-size="88" letter-spacing="1.4">Transmittance, %</text>
<text transform="translate(1567.5,462.0) scale(0.965,1)" font-size="64">CH-GO</text>
<text transform="translate(1567.5,540.5) scale(0.965,1)" font-size="64">GO</text>
<text transform="translate(1567.5,618.2) scale(0.965,1)" font-size="64">CH</text>
</g>
</svg>
</body></html>
